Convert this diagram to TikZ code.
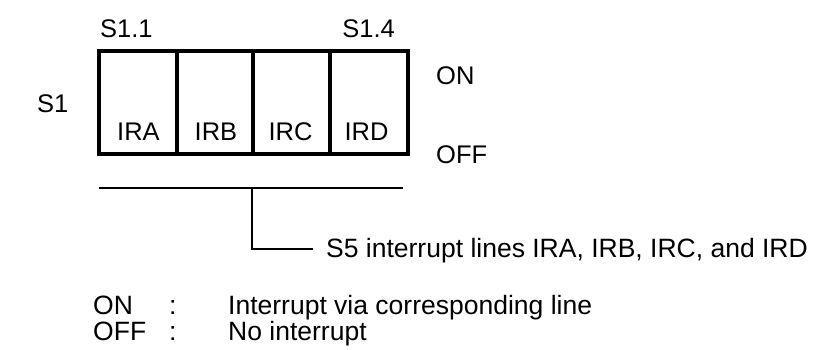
\documentclass[tikz,border=0pt]{standalone}
\usepackage{fontspec}
\setmainfont{Liberation Sans}
\newcommand{\legcol}[2]{\makebox[#1][l]{#2}}
\begin{document}
\begin{tikzpicture}[x=1pt,y=-1pt,
  lbl/.style={inner sep=0pt,font=\fontsize{25.5}{28}\selectfont},
  big/.style={inner sep=0pt,font=\fontsize{26.5}{28}\selectfont},
  legend/.style={inner sep=0pt,align=left,font=\fontsize{26.5}{23}\selectfont},
  heavy/.style={line width=3.2pt},
  thin/.style={line width=2pt}]
\useasboundingbox (0,0) rectangle (813,349);
% switch body
\draw[heavy] (99,51) rectangle (408,154);
\draw[heavy] (177,51) -- (177,154);
\draw[heavy] (253,51) -- (253,154);
\draw[heavy] (330,51) -- (330,154);
\node[lbl,anchor=base] (ira) at (138.5,140) {IRA};
\node[lbl,anchor=base] (irb) at (216,140) {IRB};
\node[lbl,anchor=base] (irc) at (290.5,140) {IRC};
\node[lbl,anchor=base] (ird) at (366.5,140) {IRD};
\node[lbl,anchor=base west] (s11) at (100,37) {S1.1};
\node[lbl,anchor=base east] (s14) at (395,37) {S1.4};
\node[lbl,anchor=base west] (s1) at (37,112) {S1};
\node[lbl,anchor=base west] (on) at (436,84) {ON};
\node[lbl,anchor=base west] (off) at (436,163) {OFF};
% bracket
\coordinate (bl) at (99,188);
\coordinate (br) at (403,188);
\coordinate (bm) at (252,188);
\coordinate (bc) at (252,249);
\coordinate (be) at (313,249);
\draw[thin] (bl) -- (br);
\draw[thin] (bm) -- (bc) -- (be);
\node[big,anchor=base west] (s5) at (326,257) {S5 interrupt lines IRA, IRB, IRC, and IRD};
% legend
\node[legend,anchor=base west] (leg) at (93,340)
  {\lineskiplimit=-50pt\relax
   \legcol{76pt}{ON}\legcol{59pt}{:}Interrupt via corresponding line\\
   \legcol{76pt}{OFF}\legcol{59pt}{:}No interrupt};
\end{tikzpicture}
\end{document}
